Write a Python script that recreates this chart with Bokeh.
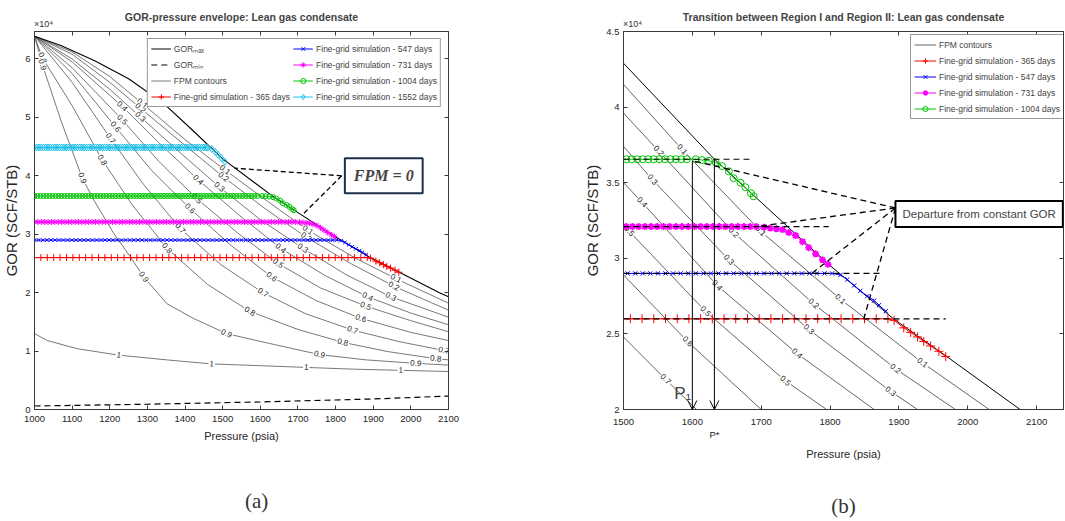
import numpy as np
from bokeh.plotting import figure
from bokeh.layouts import row
from bokeh.models import (Range1d, LinearAxis, Legend, LegendItem, Label,
                          ColumnDataSource, Arrow, OpenHead, FixedTicker,
                          NumeralTickFormatter)
from bokeh.core.properties import value
from bokeh.embed import file_html
from bokeh.resources import INLINE

# ---------------- data (pressure in psia, GOR in 1e4 SCF/STB) ----------------
GORMAX_P = [1000, 1070, 1160, 1250, 1343, 1420, 1500, 1631, 1700, 1798, 1892, 1968, 2076, 2100]
GORMAX_G = [6.39, 6.23, 5.97, 5.66, 5.24, 4.78, 4.29, 3.66, 3.37, 2.96, 2.60, 2.355, 2.0, 1.93]
GORMIN_P = [1000, 1300, 1600, 1900, 2100]
GORMIN_G = [0.06, 0.09, 0.13, 0.18, 0.23]

# fine-grid simulations: constant-GOR plateau (sampled pressures) + declining tail
P365_FLAT = list(range(1000, 1886, 17)); G365_FLAT = 2.60
P365_TAIL = [1893, 1907, 1917, 1927, 1936, 1946, 1958, 1968]
G365_TAIL = [2.59, 2.54, 2.51, 2.48, 2.45, 2.42, 2.385, 2.35]
P547_FLAT = list(range(1000, 1804, 11)); G547_FLAT = 2.90
P547_TAIL = [1815, 1825, 1835, 1844, 1854, 1864, 1871, 1881]
G547_TAIL = [2.89, 2.86, 2.82, 2.785, 2.75, 2.72, 2.69, 2.65]
P731_FLAT = list(range(1000, 1700, 9)); G731_FLAT = 3.21
P731_TAIL = [1704, 1713, 1722, 1731, 1740, 1750, 1760, 1769, 1779, 1789, 1797]
G731_TAIL = [3.205, 3.20, 3.195, 3.19, 3.17, 3.15, 3.11, 3.07, 3.03, 2.99, 2.96]
P1004_FLAT = list(range(1000, 1600, 8)); G1004_FLAT = 3.655
P1004_TAIL = [1605, 1614, 1624, 1634, 1643, 1653, 1660, 1670, 1677, 1685, 1689]
G1004_TAIL = [3.655, 3.65, 3.645, 3.634, 3.61, 3.575, 3.53, 3.50, 3.47, 3.43, 3.41]
P1552_FLAT = list(range(1000, 1457, 6)); G1552_FLAT = 4.485
P1552_TAIL = [1460, 1471, 1480, 1488, 1497, 1506]
G1552_TAIL = [4.48, 4.46, 4.41, 4.36, 4.30, 4.24]

# FPM contours, panel (a)
CA_LEVELS = ["0.1", "0.2", "0.3", "0.4", "0.5", "0.6", "0.7", "0.8", "0.9", "1"]
CA_P = [
    [1000, 1100, 1200, 1286, 1400, 1506, 1620, 1726, 1850, 1960, 2100],
    [1000, 1100, 1200, 1281, 1400, 1502, 1610, 1722, 1840, 1955, 2100],
    [1000, 1100, 1200, 1281, 1390, 1491, 1600, 1713, 1830, 1947, 2100],
    [1000, 1100, 1233, 1330, 1435, 1545, 1654, 1770, 1885, 2000, 2100],
    [1000, 1100, 1233, 1330, 1431, 1540, 1647, 1760, 1880, 2000, 2100],
    [1000, 1100, 1215, 1310, 1413, 1520, 1630, 1750, 1867, 2000, 2100],
    [1000, 1100, 1202, 1290, 1387, 1495, 1607, 1720, 1845, 1970, 2088, 2100],
    [1000, 1021, 1100, 1180, 1260, 1352, 1460, 1572, 1700, 1819, 1940, 2066, 2100],
    [1000, 1021, 1070, 1127, 1158, 1211, 1255, 1290, 1352, 1422, 1510, 1590, 1757, 1880, 2013, 2100],
    [1000, 1034, 1114, 1224, 1350, 1471, 1600, 1722, 1850, 1973, 2100],
]
CA_G = [
    [6.39, 6.12, 5.70, 5.24, 4.62, 4.10, 3.56, 3.07, 2.60, 2.24, 1.82],
    [6.39, 6.08, 5.60, 5.16, 4.52, 3.98, 3.45, 2.95, 2.50, 2.11, 1.70],
    [6.39, 6.00, 5.48, 5.01, 4.38, 3.81, 3.25, 2.76, 2.30, 1.93, 1.58],
    [6.39, 5.95, 5.19, 4.57, 3.93, 3.32, 2.76, 2.30, 1.93, 1.65, 1.45],
    [6.39, 5.85, 4.96, 4.25, 3.61, 3.02, 2.50, 2.08, 1.77, 1.52, 1.33],
    [6.39, 5.75, 4.84, 4.10, 3.44, 2.82, 2.27, 1.86, 1.56, 1.32, 1.18],
    [6.39, 5.60, 4.64, 3.85, 3.10, 2.48, 2.00, 1.64, 1.36, 1.16, 1.01, 1.00],
    [6.39, 6.02, 5.20, 4.27, 3.50, 2.76, 2.14, 1.68, 1.37, 1.15, 0.99, 0.87, 0.85],
    [6.39, 5.90, 4.95, 3.96, 3.58, 3.01, 2.61, 2.27, 1.81, 1.56, 1.30, 1.18, 0.94, 0.85, 0.79, 0.76],
    [1.30, 1.18, 1.04, 0.93, 0.85, 0.78, 0.75, 0.72, 0.69, 0.67, 0.65],
]
LA_TEXT = ["0.1", "0.2", "0.3", "0.4", "0.5", "0.6", "0.7", "0.8", "0.9",
           "0.1", "0.2", "0.3", "0.4", "0.5", "0.6", "0.7", "0.8", "0.9",
           "0.1", "0.2", "0.3", "0.4", "0.5", "0.6", "0.7", "0.8", "0.9",
           "0.1", "0.2", "0.3", "0.4", "0.5", "0.6", "0.7", "0.8", "0.9",
           "0.7", "0.8", "0.9", "1", "1", "1", "1", "0.8", "0.9"]
LA_P = [1286, 1281, 1281, 1233, 1233, 1215, 1202, 1180, 1127,
        1506, 1502, 1491, 1435, 1431, 1413, 1387, 1352, 1290,
        1726, 1722, 1713, 1654, 1647, 1630, 1607, 1572, 1510,
        1960, 1955, 1947, 1885, 1880, 1867, 1845, 1819, 1757,
        2088, 2066, 2013, 1973, 1224, 1471, 1722, 1021, 1021]
LA_G = [5.24, 5.16, 5.01, 5.19, 4.96, 4.84, 4.64, 4.27, 3.96,
        4.10, 3.98, 3.81, 3.93, 3.61, 3.44, 3.10, 2.76, 2.27,
        3.07, 2.95, 2.76, 2.76, 2.50, 2.27, 2.00, 1.68, 1.30,
        2.24, 2.11, 1.93, 1.93, 1.77, 1.56, 1.36, 1.15, 0.94,
        1.01, 0.87, 0.79, 0.67, 0.93, 0.78, 0.72, 6.02, 5.90]

# FPM contours, panel (b)
CB_LEVELS = ["0.1", "0.2", "0.3", "0.4", "0.5", "0.6", "0.7"]
CB_P = [
    [1500, 1585, 1699, 1815, 1934, 2031],
    [1500, 1551, 1660, 1776, 1895, 1982],
    [1500, 1542, 1653, 1769, 1888, 1927],
    [1500, 1527, 1636, 1752, 1864],
    [1500, 1508, 1619, 1735, 1795],
    [1500, 1593, 1700],
    [1500, 1561, 1606],
]
CB_G = [
    [4.15, 3.72, 3.18, 2.73, 2.31, 2.0],
    [3.96, 3.71, 3.17, 2.70, 2.27, 2.0],
    [3.74, 3.52, 2.99, 2.53, 2.12, 2.0],
    [3.50, 3.37, 2.82, 2.37, 2.0],
    [3.22, 3.18, 2.65, 2.19, 2.0],
    [2.89, 2.45, 2.0],
    [2.48, 2.20, 2.0],
]
LB_TEXT = ["0.1", "0.1", "0.1", "0.1", "0.2", "0.2", "0.2", "0.2", "0.3", "0.3", "0.3", "0.3",
           "0.4", "0.4", "0.4", "0.5", "0.5", "0.5", "0.6", "0.7"]
LB_P = [1585, 1699, 1815, 1934, 1551, 1660, 1776, 1895, 1542, 1653, 1769, 1888,
        1527, 1636, 1752, 1508, 1619, 1735, 1593, 1561]
LB_G = [3.72, 3.18, 2.73, 2.31, 3.71, 3.17, 2.70, 2.27, 3.52, 2.99, 2.53, 2.12,
        3.37, 2.82, 2.37, 3.18, 2.65, 2.19, 2.45, 2.20]

# panel (b) constant-GOR tangents, P1 / P* arrows, pointer anchors
TAN_G = [2.60, 2.90, 3.21, 3.655]
TAN_P_END = [1968, 1876, 1798, 1687]
ARROW_P = [1600, 1632]
ARROW_G_TOP = [3.645, 3.66]
DEP_ANCHOR = (1895, 3.333)
DEP_TARGET_P = [1600, 1694, 1772, 1849]
DEP_TARGET_G = [3.645, 3.21, 2.895, 2.60]
FPM0_ANCHOR = (1816, 4.0)
FPM0_TARGET_P = [1532, 1713]
FPM0_TARGET_G = [4.13, 3.34]

# axis ticks
XTICKS_A = list(range(1000, 2101, 100))
YTICKS_A = [0, 1, 2, 3, 4, 5, 6]
XTICKS_B = list(range(1500, 2101, 100))
YTICKS_B = [2, 2.5, 3, 3.5, 4, 4.5]

# ---------------- styling ----------------
SANS = "Liberation Sans, Arial, sans-serif"
SERIF = "Liberation Serif, Times New Roman, serif"
AXC = "#3a3a3a"
C365, C547, C731, C1004, C1552 = "#ff0000", "#0000ff", "#ff00ff", "#00c400", "#1ec0ec"
CONT = "#555555"


def series(flat_p, flat_g, tail_p, tail_g):
    return list(flat_p) + list(tail_p), [flat_g] * len(flat_p) + list(tail_g)


S365 = series(P365_FLAT, G365_FLAT, P365_TAIL, G365_TAIL)
S547 = series(P547_FLAT, G547_FLAT, P547_TAIL, G547_TAIL)
S731 = series(P731_FLAT, G731_FLAT, P731_TAIL, G731_TAIL)
S1004 = series(P1004_FLAT, G1004_FLAT, P1004_TAIL, G1004_TAIL)
S1552 = series(P1552_FLAT, G1552_FLAT, P1552_TAIL, G1552_TAIL)


def bare_axis(ticks, overrides, font, size, standoff, tick_in):
    return LinearAxis(ticker=FixedTicker(ticks=ticks), major_label_overrides=overrides,
                      major_tick_in=tick_in, major_tick_out=0, minor_tick_in=0, minor_tick_out=0,
                      axis_line_color=None if tick_in == 0 else AXC,
                      major_tick_line_color=None if tick_in == 0 else AXC,
                      major_label_text_font=font, major_label_text_font_size=size,
                      major_label_text_color="#333333" if overrides else None,
                      major_label_standoff=standoff, axis_label_standoff=0)


def make_fig(xr, yr, w, h, bl, br, bt, bb, title, xticks, yticks, yfmt,
             x10_at, panel_text, panel_at, panel_standoff, xoverrides):
    p = figure(width=w, height=h, x_range=Range1d(*xr), y_range=Range1d(*yr),
               output_backend="svg", toolbar_location=None,
               min_border_left=bl, min_border_right=br, min_border_top=bt, min_border_bottom=bb,
               title=title)
    p.xgrid.visible = False
    p.ygrid.visible = False
    p.outline_line_color = AXC
    p.title.text_font = SANS
    p.title.text_font_size = "10.5px"
    p.title.text_font_style = "bold"
    p.title.align = "center"
    p.title.standoff = -15
    p.xaxis.ticker = FixedTicker(ticks=xticks)
    p.yaxis.ticker = FixedTicker(ticks=yticks)
    p.xaxis.formatter = NumeralTickFormatter(format="0")
    p.yaxis.formatter = NumeralTickFormatter(format=yfmt)
    p.xaxis.major_label_overrides = xoverrides
    for ax in list(p.xaxis) + list(p.yaxis):
        ax.major_tick_in = 4
        ax.major_tick_out = 0
        ax.minor_tick_in = 0
        ax.minor_tick_out = 0
        ax.axis_line_color = AXC
        ax.major_tick_line_color = AXC
        ax.major_label_text_font = SANS
        ax.major_label_text_font_size = "9.5px"
        ax.major_label_text_color = "#262626"
        ax.axis_label_text_font_style = "normal"
        ax.axis_label_text_color = "#262626"
    p.xaxis.major_label_standoff = 6
    p.yaxis.major_label_standoff = 4
    p.xaxis.axis_label = "Pressure (psia)"
    p.xaxis.axis_label_text_font = SANS
    p.xaxis.axis_label_text_font_size = "11px"
    p.xaxis.axis_label_standoff = 5
    p.yaxis.axis_label = "GOR (SCF/STB)"
    p.yaxis.axis_label_text_font = SANS
    p.yaxis.axis_label_text_font_size = "15px"
    p.yaxis.axis_label_standoff = 2
    # box ticks on top / right (MATLAB style), no labels
    p.add_layout(bare_axis(xticks, {}, SANS, "1px", 0, 4), "above")
    p.add_layout(bare_axis(yticks, {}, SANS, "1px", 0, 4), "right")
    # x10^4 exponent note above the frame
    p.add_layout(bare_axis([x10_at], {x10_at: "×10⁴"}, SANS, "9px", 3, 0), "above")
    # panel letter below the axis title
    p.add_layout(bare_axis([panel_at], {panel_at: panel_text}, SERIF, "21px", panel_standoff, 0),
                 "below")
    return p


def label_angles(texts, ps, levels, cps, cgs, kx, ky):
    out = []
    for t, pv in zip(texts, ps):
        i = levels.index(t)
        cp, cg = np.array(cps[i], float), np.array(cgs[i], float)
        j = int(np.clip(np.searchsorted(cp, pv), 1, len(cp) - 1))
        out.append(float(np.arctan2((cg[j] - cg[j - 1]) * ky, (cp[j] - cp[j - 1]) * kx)))
    return out


def add_contours(p, cps, cgs, texts, lps, lgs, levels, kx, ky, lw):
    r = p.multi_line(cps, cgs, line_color=CONT, line_width=lw)
    src = ColumnDataSource(dict(x=lps, y=lgs, text=texts,
                                angle=label_angles(texts, lps, levels, cps, cgs, kx, ky)))
    p.text(x="x", y="y", text="text", angle="angle", source=src,
           text_font=value(SANS), text_font_size=value("8px"), text_color="#222222",
           text_align="center", text_baseline="middle",
           background_fill_color="white", padding=1)
    return r


def add_series(p, s, color, marker, size, lw=1.0):
    rl = p.line(s[0], s[1], line_color=color, line_width=1)
    rs = p.scatter(s[0], s[1], marker=marker, size=size, line_color=color,
                   fill_color=None, line_width=lw)
    return [rl, rs]


# ================= panel (a) =================
pa = make_fig((1000, 2100), (0, 6.47), 560, 521, 32, 112, 31, 112,
              "GOR-pressure envelope: Lean gas condensate", XTICKS_A, YTICKS_A, "0",
              1024, "(a)", 1590, 44, {})
ra_c = add_contours(pa, CA_P, CA_G, LA_TEXT, LA_P, LA_G, CA_LEVELS, 416 / 1100, 378 / 6.47, 0.8)
ra_min = pa.line(GORMIN_P, GORMIN_G, line_color="black", line_width=1.2, line_dash="6 4")
ra_max = pa.line(GORMAX_P, GORMAX_G, line_color="black", line_width=1.1)
ra365 = add_series(pa, S365, C365, "cross", 7)
ra547 = add_series(pa, S547, C547, "x", 5)
ra731 = add_series(pa, S731, C731, "asterisk", 6)
ra1004 = add_series(pa, S1004, C1004, "circle", 5)
ra1552 = add_series(pa, S1552, C1552, "diamond", 7)
pa.segment(x0=[FPM0_ANCHOR[0]] * 2, y0=[FPM0_ANCHOR[1]] * 2, x1=FPM0_TARGET_P, y1=FPM0_TARGET_G,
           line_color="black", line_width=1.3, line_dash="5 3")
pa.add_layout(Label(x=1928, y=4.0, text="FPM = 0", text_font=SERIF, text_font_size="16px",
                    text_font_style="bold italic", text_align="center", text_baseline="middle",
                    background_fill_color="white", border_line_color="#1f2d4d",
                    border_line_width=2, padding=9))
leg_a = Legend(items=[
    LegendItem(label="GORₘₐₓ", renderers=[ra_max]),
    LegendItem(label="GORₘᵢₙ", renderers=[ra_min]),
    LegendItem(label="FPM contours", renderers=[ra_c]),
    LegendItem(label="Fine-grid simulation - 365 days", renderers=ra365),
    LegendItem(label="Fine-grid simulation - 547 days", renderers=ra547),
    LegendItem(label="Fine-grid simulation - 731 days", renderers=ra731),
    LegendItem(label="Fine-grid simulation - 1004 days", renderers=ra1004),
    LegendItem(label="Fine-grid simulation - 1552 days", renderers=ra1552),
], ncols=2, location="top_right", margin=7, glyph_width=20)

# ================= panel (b) =================
pb = make_fig((1500, 2139), (2, 4.5), 505, 521, 63, 2, 30, 110,
              "Transition between Region I and Region II: Lean gas condensate",
              sorted(XTICKS_B + [ARROW_P[1]]), YTICKS_B, "0.[0]",
              1513, "(b)", 1819.6, 31, {ARROW_P[1]: "\nP*"})
rb_c = add_contours(pb, CB_P, CB_G, LB_TEXT, LB_P, LB_G, CB_LEVELS, 440 / 639, 381 / 2.5, 0.9)
pb.line(GORMAX_P, GORMAX_G, line_color="black", line_width=1.0)
rb365 = add_series(pb, S365, C365, "cross", 9)
rb547 = add_series(pb, S547, C547, "x", 6)
rb731 = add_series(pb, S731, C731, "asterisk", 7, 1.8)
rb1004 = add_series(pb, S1004, C1004, "circle", 7)
pb.segment(x0=[1500] * 4, y0=TAN_G, x1=TAN_P_END, y1=TAN_G,
           line_color="black", line_width=1.2, line_dash="6 4")
pb.segment(x0=[DEP_ANCHOR[0]] * 4, y0=[DEP_ANCHOR[1]] * 4, x1=DEP_TARGET_P, y1=DEP_TARGET_G,
           line_color="black", line_width=1.3, line_dash="6 4")
for xp, yt in zip(ARROW_P, ARROW_G_TOP):
    pb.add_layout(Arrow(end=OpenHead(size=9, line_width=1, line_color="black"),
                        x_start=xp, y_start=yt, x_end=xp, y_end=2.0,
                        line_color="black", line_width=1))
pb.add_layout(Label(x=2016.5, y=3.293, text="Departure from constant GOR", text_font=SANS,
                    text_font_size="11.5px", text_align="center", text_baseline="middle",
                    background_fill_color="white", border_line_color="black",
                    border_line_width=2, padding=7))
pb.add_layout(Label(x=1586, y=2.105, text="P₁", text_font=SANS, text_font_size="17px",
                    text_align="center", text_baseline="middle"))
leg_b = Legend(items=[
    LegendItem(label="FPM contours", renderers=[rb_c]),
    LegendItem(label="Fine-grid simulation - 365 days", renderers=rb365),
    LegendItem(label="Fine-grid simulation - 547 days", renderers=rb547),
    LegendItem(label="Fine-grid simulation - 731 days", renderers=rb731),
    LegendItem(label="Fine-grid simulation - 1004 days", renderers=rb1004),
], location=(287, 290), glyph_width=22)

for leg, p in ((leg_a, pa), (leg_b, pb)):
    leg.label_text_font = SANS
    leg.label_text_font_size = "8.5px"
    leg.label_standoff = 3
    leg.glyph_height = 13
    leg.label_height = 13
    leg.spacing = 3
    leg.padding = 3
    leg.border_line_color = "#333333"
    leg.border_line_width = 1
    leg.background_fill_alpha = 1.0
    p.add_layout(leg)

layout = row(pa, pb)
open("out.html", "w").write(file_html(layout, INLINE))
